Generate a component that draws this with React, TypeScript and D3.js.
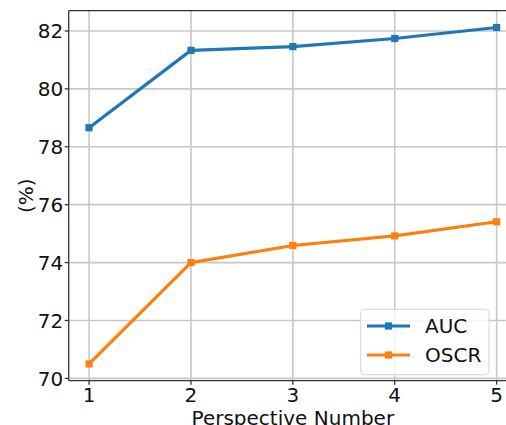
import React from 'react';
import * as d3 from 'd3';

const width = 506;
const height = 425;

const perspectives = [1, 2, 3, 4, 5];
const auc = [78.66, 81.33, 81.46, 81.74, 82.12];
const oscr = [70.5, 74.0, 74.59, 74.92, 75.41];
const yTicks = [70, 72, 74, 76, 78, 80, 82];

const seriesNames = ['AUC', 'OSCR'];
const colors = ['#1f77b4', '#ff7f0e'];

const left = 68.7;
const right = 517;
const top = 10.7;
const bottom = 380.7;

const x = d3.scaleLinear().domain([0.8, 5.2]).range([left, right]);
const y = d3.scaleLinear().domain([69.92, 82.7]).range([bottom, top]);

const line = d3.line<number>()
  .x((d, i) => x(perspectives[i]))
  .y(d => y(d));

const font = 'DejaVu Sans, sans-serif';
const fontSize = 20;

const App = () => {
  const series = [auc, oscr];
  return (
    <svg width={width} height={height} style={{ position: 'absolute', left: 0, top: 0 }} fontFamily={font}>
      <rect width={width} height={height} fill="white" />
      {/* grid */}
      {perspectives.map(p => (
        <line key={'gx' + p} x1={x(p)} x2={x(p)} y1={top} y2={bottom} stroke="#c8c8c8" strokeWidth={1.6} />
      ))}
      {yTicks.map(t => (
        <line key={'gy' + t} x1={left} x2={right} y1={y(t)} y2={y(t)} stroke="#c8c8c8" strokeWidth={1.6} />
      ))}
      {/* series */}
      {series.map((s, k) => (
        <g key={k}>
          <path d={line(s) ?? ''} fill="none" stroke={colors[k]} strokeWidth={3.2} strokeLinejoin="round" />
          {s.map((v, i) => (
            <rect key={i} x={x(perspectives[i]) - 3.6} y={y(v) - 3.6} width={7.2} height={7.2} fill={colors[k]} />
          ))}
        </g>
      ))}
      {/* spines */}
      <line x1={left} x2={left} y1={top} y2={bottom} stroke="#333" strokeWidth={1.3} />
      <line x1={left} x2={right} y1={bottom} y2={bottom} stroke="#333" strokeWidth={1.3} />
      <line x1={left} x2={right} y1={top} y2={top} stroke="#333" strokeWidth={1.3} />
      {/* y ticks */}
      {yTicks.map(t => (
        <g key={'yt' + t}>
          <line x1={left - 4} x2={left} y1={y(t)} y2={y(t)} stroke="#333" strokeWidth={1.3} />
          <text x={left - 5.5} y={y(t)} dy="0.36em" textAnchor="end" fontSize={fontSize} fill="#111">{t}</text>
        </g>
      ))}
      {/* x ticks */}
      {perspectives.map(p => (
        <g key={'xt' + p}>
          <line x1={x(p)} x2={x(p)} y1={bottom} y2={bottom + 4} stroke="#333" strokeWidth={1.3} />
          <text x={x(p)} y={402.3} textAnchor="middle" fontSize={fontSize} fill="#111">{p}</text>
        </g>
      ))}
      <text x={(left + right) / 2} y={424.6} textAnchor="middle" fontSize={fontSize} fill="#111">Perspective Number</text>
      <text transform={`translate(32.5,${(top + bottom) / 2}) rotate(-90)`} textAnchor="middle" fontSize={fontSize} fill="#111">(%)</text>
      {/* legend */}
      <g>
        <rect x={360.7} y={309.3} width={128.3} height={65.4} rx={4} fill="white" fillOpacity={0.8} stroke="#d5d5d5" strokeWidth={1} />
        {seriesNames.map((n, k) => {
          const ly = 326 + k * 29;
          return (
            <g key={n}>
              <line x1={367} x2={410} y1={ly} y2={ly} stroke={colors[k]} strokeWidth={3.2} />
              <rect x={388.5 - 3.6} y={ly - 3.6} width={7.2} height={7.2} fill={colors[k]} />
              <text x={425} y={ly} dy="0.36em" fontSize={fontSize} fill="#111">{n}</text>
            </g>
          );
        })}
      </g>
    </svg>
  );
};

export default App;
